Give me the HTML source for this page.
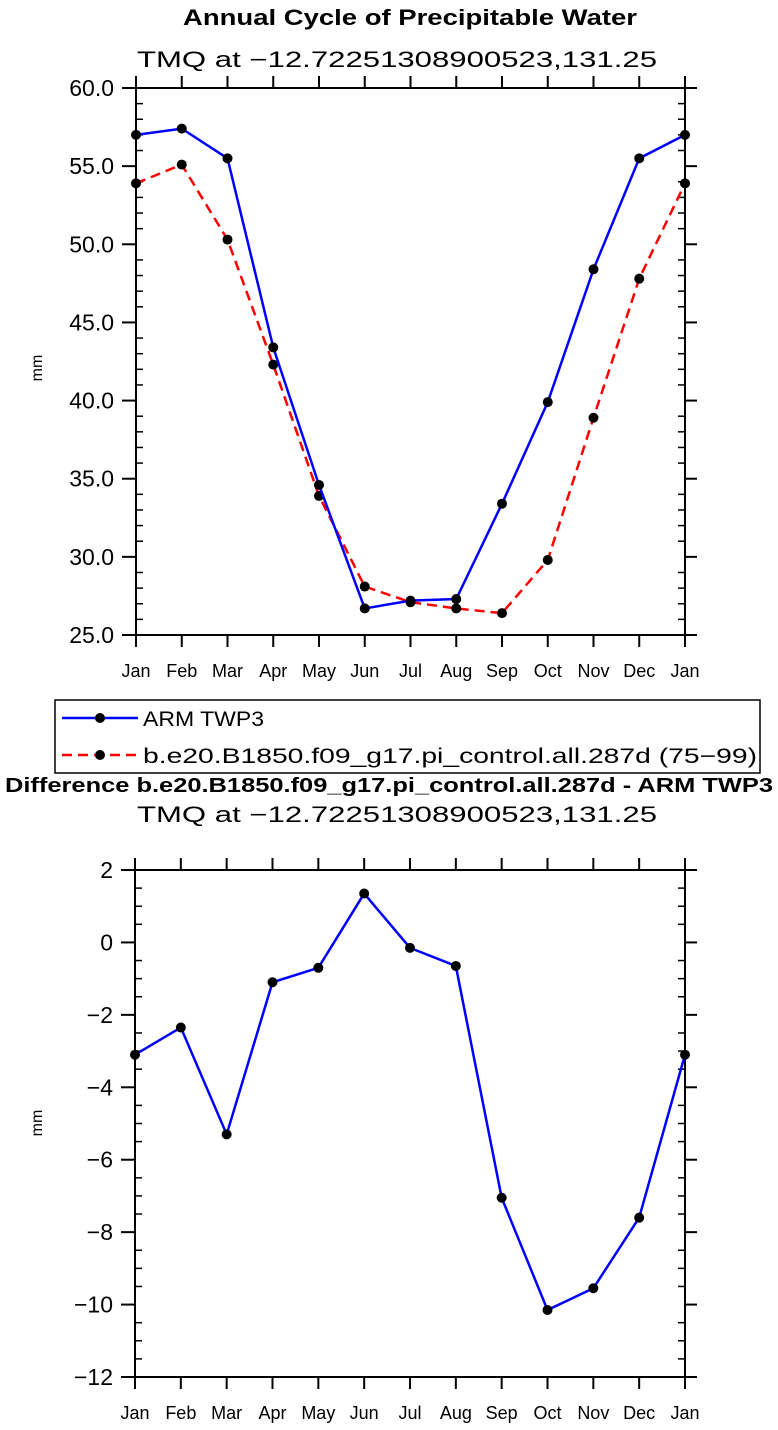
<!DOCTYPE html>
<html><head><meta charset="utf-8"><style>
body{margin:0;background:#fff}
svg text{font-family:"Liberation Sans","DejaVu Sans",sans-serif}
</style></head><body>
<svg id="s" width="778" height="1425" xmlns="http://www.w3.org/2000/svg">
<text x="183" y="25" textLength="454" lengthAdjust="spacingAndGlyphs" font-size="22" font-weight="bold">Annual Cycle of Precipitable Water</text>
<text x="137" y="67" textLength="520" lengthAdjust="spacingAndGlyphs" font-size="22">TMQ at −12.72251308900523,131.25</text>
<text x="42" y="368" font-size="16" transform="rotate(-90 42 368)" text-anchor="middle">mm</text>
<g>
<rect x="55" y="700" width="705" height="73" fill="#fff" stroke="#000" stroke-width="1.5"/>
<line x1="62" y1="718" x2="138" y2="718" stroke="#00f" stroke-width="2.5"/><circle cx="100" cy="718" r="5"/>
<text x="143" y="726" textLength="121" lengthAdjust="spacingAndGlyphs" font-size="21">ARM TWP3</text>
<line x1="62" y1="755" x2="138" y2="755" stroke="#f00" stroke-width="2.5" stroke-dasharray="10,6"/><circle cx="100" cy="755" r="5"/>
<text x="143" y="763" textLength="614" lengthAdjust="spacingAndGlyphs" font-size="21">b.e20.B1850.f09_g17.pi_control.all.287d (75−99)</text>
</g>
<text x="5" y="792" textLength="768" lengthAdjust="spacingAndGlyphs" font-size="20" font-weight="bold">Difference b.e20.B1850.f09_g17.pi_control.all.287d - ARM TWP3</text>
<text x="137" y="822" textLength="520" lengthAdjust="spacingAndGlyphs" font-size="22">TMQ at −12.72251308900523,131.25</text>
<text x="42" y="1123" font-size="16" transform="rotate(-90 42 1123)" text-anchor="middle">mm</text>
</svg>
<script>
const months=["Jan","Feb","Mar","Apr","May","Jun","Jul","Aug","Sep","Oct","Nov","Dec","Jan"];
const armTop=[57.0,57.4,55.5,43.4,34.6,26.7,27.2,27.3,33.4,39.9,48.4,55.5,57.0];
const modelTop=[53.9,55.1,50.3,42.3,33.9,28.1,27.1,26.7,26.4,29.8,38.9,47.8,53.9];
const diffVals=[-3.1,-2.35,-5.3,-1.1,-0.7,1.35,-0.15,-0.65,-7.05,-10.15,-9.55,-7.6,-3.1];
const topTicks=["25.0","30.0","35.0","40.0","45.0","50.0","55.0","60.0"];
const botTicks=["−12","−10","−8","−6","−4","−2","0","2"];
const S=document.getElementById('s');const NS="http://www.w3.org/2000/svg";
function mk(t,a,p){const e=document.createElementNS(NS,t);for(const k in a)e.setAttribute(k,a[k]);(p||S).appendChild(e);return e;}
function panel(name,L,R,T,B,ymin,ymax,major,minor,labels,series){
 const g=mk('g',{});
 
 
 const X=i=>L+(R-L)*i/12, Y=v=>B-(B-T)*(v-ymin)/(ymax-ymin);
 mk('rect',{x:L,y:T,width:R-L,height:B-T,fill:'none',stroke:'#000','stroke-width':2},g);
 for(let v=ymin;v<=ymax+1e-9;v+=minor){const y=Y(v);
  const isMaj=Math.abs((v-ymin)/major-Math.round((v-ymin)/major))<1e-6;
  if(isMaj){mk('line',{x1:L-14,y1:y,x2:L,y2:y,stroke:'#000','stroke-width':2},g);mk('line',{x1:R,y1:y,x2:R+12,y2:y,stroke:'#000','stroke-width':2},g);}
  else{mk('line',{x1:L,y1:y,x2:L+7,y2:y,stroke:'#000','stroke-width':1.5},g);mk('line',{x1:R-7,y1:y,x2:R,y2:y,stroke:'#000','stroke-width':1.5},g);}
 }
 labels.forEach((s,i)=>{const t=mk('text',{x:L-22,y:Y(ymin+i*major)+8,'text-anchor':'end','font-size':23},g);t.textContent=s;
  
  });
 months.forEach((m,i)=>{const x=X(i);
  mk('line',{x1:x,y1:B,x2:x,y2:B+12,stroke:'#000','stroke-width':2},g);
  mk('line',{x1:x,y1:T-12,x2:x,y2:T,stroke:'#000','stroke-width':2},g);
  const t=mk('text',{x:x,y:B+42,'text-anchor':'middle','font-size':18},g);t.textContent=m;
  
  });
 series.forEach(s=>{
  const pl=mk('polyline',{points:s.v.map((v,i)=>X(i)+','+Y(v)).join(' '),fill:'none',stroke:s.c,'stroke-width':2.5,'stroke-dasharray':s.d||'none'},g);
  
  
  s.v.forEach((v,i)=>{const c=mk('circle',{cx:X(i),cy:Y(v),r:5,fill:'#000'},g);
   
   });
 });
}
panel('top-chart',136,685,88,635,25,60,5,1,topTicks,[{n:'model',v:modelTop,c:'#f00',d:'10,6'},{n:'arm',v:armTop,c:'#00f'}]);
panel('bottom-chart',135,685,870,1377,-12,2,2,0.5,botTicks,[{n:'diff',v:diffVals,c:'#00f'}]);
</script>
</body></html>
